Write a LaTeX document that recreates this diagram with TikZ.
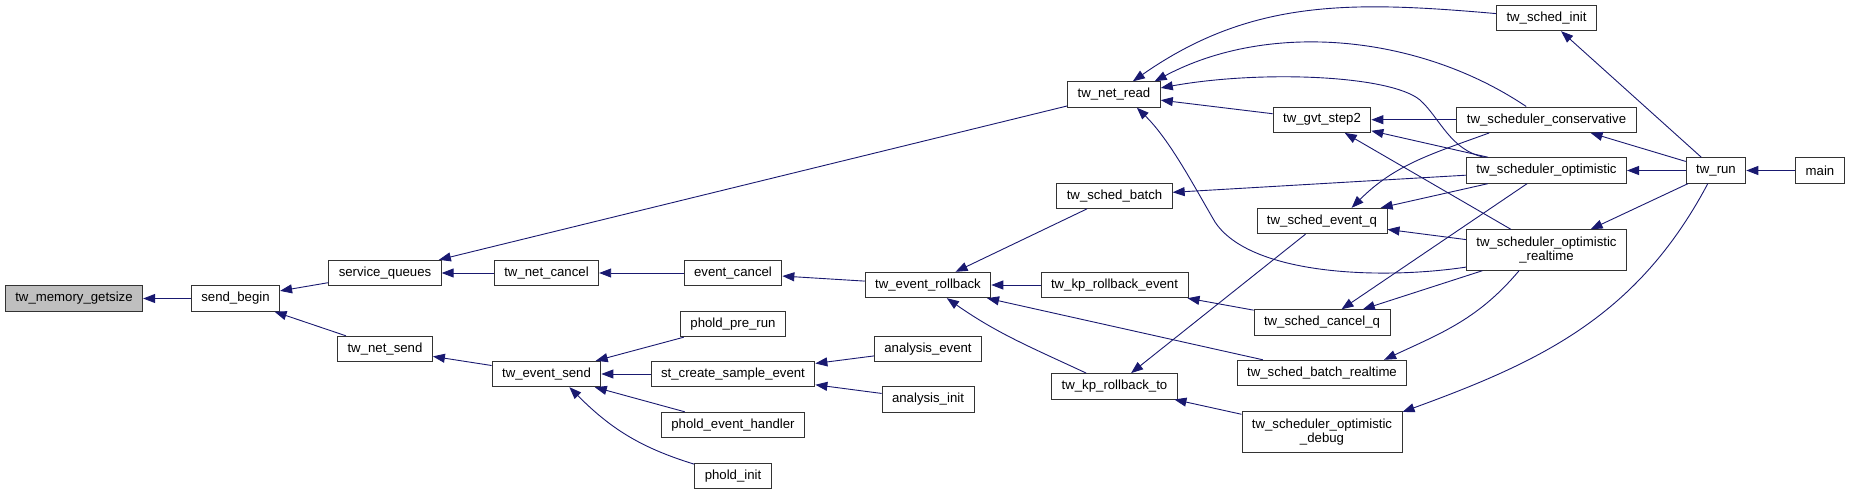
\documentclass[tikz,border=0pt]{standalone}
\usepackage{fontspec}
\setmainfont{Liberation Sans}
\usetikzlibrary{arrows.meta}
\definecolor{edgeblue}{HTML}{191970}
\tikzset{
  fnnode/.style={draw=black!80, line width=0.9pt, fill=white, minimum height=25.5pt, inner xsep=10pt, inner ysep=2pt, align=center, font=\fontsize{13.2}{14}\selectfont},
  rootnode/.style={fnnode, fill=black!25},
  twoline/.style={fnnode, minimum height=40.5pt},
  callarrow/.style={-{Triangle[length=12pt,width=9pt]}, edgeblue, line width=0.9pt}
}
\begin{document}
\begin{tikzpicture}[x=1pt, y=-1pt]
  \useasboundingbox (0,0) rectangle (1851,495);
  \node[rootnode] (getsize) at (74,298.5) {tw\_memory\_getsize};
  \node[fnnode] (sendbegin) at (235.5,298.5) {send\_begin};
  \node[fnnode] (servq) at (385,273) {service\_queues};
  \node[fnnode] (netsend) at (385,349) {tw\_net\_send};
  \node[fnnode] (netcancel) at (546.5,273) {tw\_net\_cancel};
  \node[fnnode] (evsend) at (546.5,374) {tw\_event\_send};
  \node[fnnode] (evcancel) at (733,273) {event\_cancel};
  \node[fnnode] (prerun) at (733,324) {phold\_pre\_run};
  \node[fnnode] (sample) at (733,374) {st\_create\_sample\_event};
  \node[fnnode] (handler) at (733,425) {phold\_event\_handler};
  \node[fnnode] (pinit) at (733,476) {phold\_init};
  \node[fnnode] (rollback) at (928,285) {tw\_event\_rollback};
  \node[fnnode] (anevent) at (928,349) {analysis\_event};
  \node[fnnode] (aninit) at (928,399.5) {analysis\_init};
  \node[fnnode] (netread) at (1114,94.5) {tw\_net\_read};
  \node[fnnode] (batch) at (1114.5,195.7) {tw\_sched\_batch};
  \node[fnnode] (kpevent) at (1114.5,285) {tw\_kp\_rollback\_event};
  \node[fnnode] (kpto) at (1114.5,386.3) {tw\_kp\_rollback\_to};
  \node[fnnode] (gvt) at (1322,119.7) {tw\_gvt\_step2};
  \node[fnnode] (evq) at (1322,221) {tw\_sched\_event\_q};
  \node[fnnode] (cancelq) at (1322,322.5) {tw\_sched\_cancel\_q};
  \node[fnnode] (batchrt) at (1322,373) {tw\_sched\_batch\_realtime};
  \node[twoline] (optdebug) at (1322,432) {tw\_scheduler\_optimistic\\\_debug};
  \node[fnnode] (schedinit) at (1546.5,18) {tw\_sched\_init};
  \node[fnnode] (conserv) at (1546.5,119.7) {tw\_scheduler\_conservative};
  \node[fnnode] (optim) at (1546.5,170.5) {tw\_scheduler\_optimistic};
  \node[twoline] (optrt) at (1546.5,250) {tw\_scheduler\_optimistic\\\_realtime};
  \node[fnnode] (twrun) at (1716,170.5) {tw\_run};
  \node[fnnode] (main) at (1820,170.5) {main};
  % callers point at their callees
  \draw[callarrow] (sendbegin) -- (getsize);
  \draw[callarrow] (servq) -- (sendbegin);
  \draw[callarrow] (netsend) -- (sendbegin);
  \draw[callarrow] (netread) -- (servq);
  \draw[callarrow] (netcancel) -- (servq);
  \draw[callarrow] (evcancel) -- (netcancel);
  \draw[callarrow] (rollback) -- (evcancel);
  \draw[callarrow] (evsend) -- (netsend);
  \draw[callarrow] (prerun) -- (evsend);
  \draw[callarrow] (sample) -- (evsend);
  \draw[callarrow] (handler) -- (evsend);
  \draw[callarrow] (pinit) to[out=163,in=-45] (evsend.-30);
  \draw[callarrow] (anevent) -- (sample);
  \draw[callarrow] (aninit) -- (sample);
  \draw[callarrow] (batch) -- (rollback);
  \draw[callarrow] (kpevent) -- (rollback);
  \draw[callarrow] (batchrt) -- (rollback);
  \draw[callarrow] (kpto) to[out=155,in=-35] (rollback);
  \draw[callarrow] (schedinit) to[out=175,in=35] (netread);
  \draw[callarrow] (conserv.147) .. controls (1420,35) and (1270,20) .. (netread.18);
  \draw[callarrow] (optim.168) .. controls (1450,150) and (1440,118) .. (1420,100)
    .. controls (1390,75) and (1260,70) .. (netread.8);
  \draw[callarrow] (gvt) -- (netread);
  \draw[callarrow] (optrt.-168) .. controls (1380,280) and (1250,275) .. (1215,222)
    .. controls (1195,188) and (1170,140) .. (netread.-30);
  \draw[callarrow] (optim) -- (batch);
  \draw[callarrow] (conserv) -- (gvt);
  \draw[callarrow] (optim) -- (gvt);
  \draw[callarrow] (optrt) -- (gvt);
  \draw[callarrow] (conserv.-167) to[out=-160,in=45] (evq.24);
  \draw[callarrow] (optim) -- (evq);
  \draw[callarrow] (optrt) -- (evq);
  \draw[callarrow] (evq) -- (kpto);
  \draw[callarrow] (optim) -- (cancelq);
  \draw[callarrow] (optrt) -- (cancelq);
  \draw[callarrow] (cancelq) -- (kpevent);
  \draw[callarrow] (optrt.-143) to[out=-130,in=25] (batchrt.12);
  \draw[callarrow] (twrun.-122) to[out=-118,in=20] (optdebug.14);
  \draw[callarrow] (optdebug) -- (kpto);
  \draw[callarrow] (twrun) -- (schedinit);
  \draw[callarrow] (twrun) -- (conserv);
  \draw[callarrow] (twrun) -- (optim);
  \draw[callarrow] (twrun) -- (optrt);
  \draw[callarrow] (main) -- (twrun);
\end{tikzpicture}
\end{document}
